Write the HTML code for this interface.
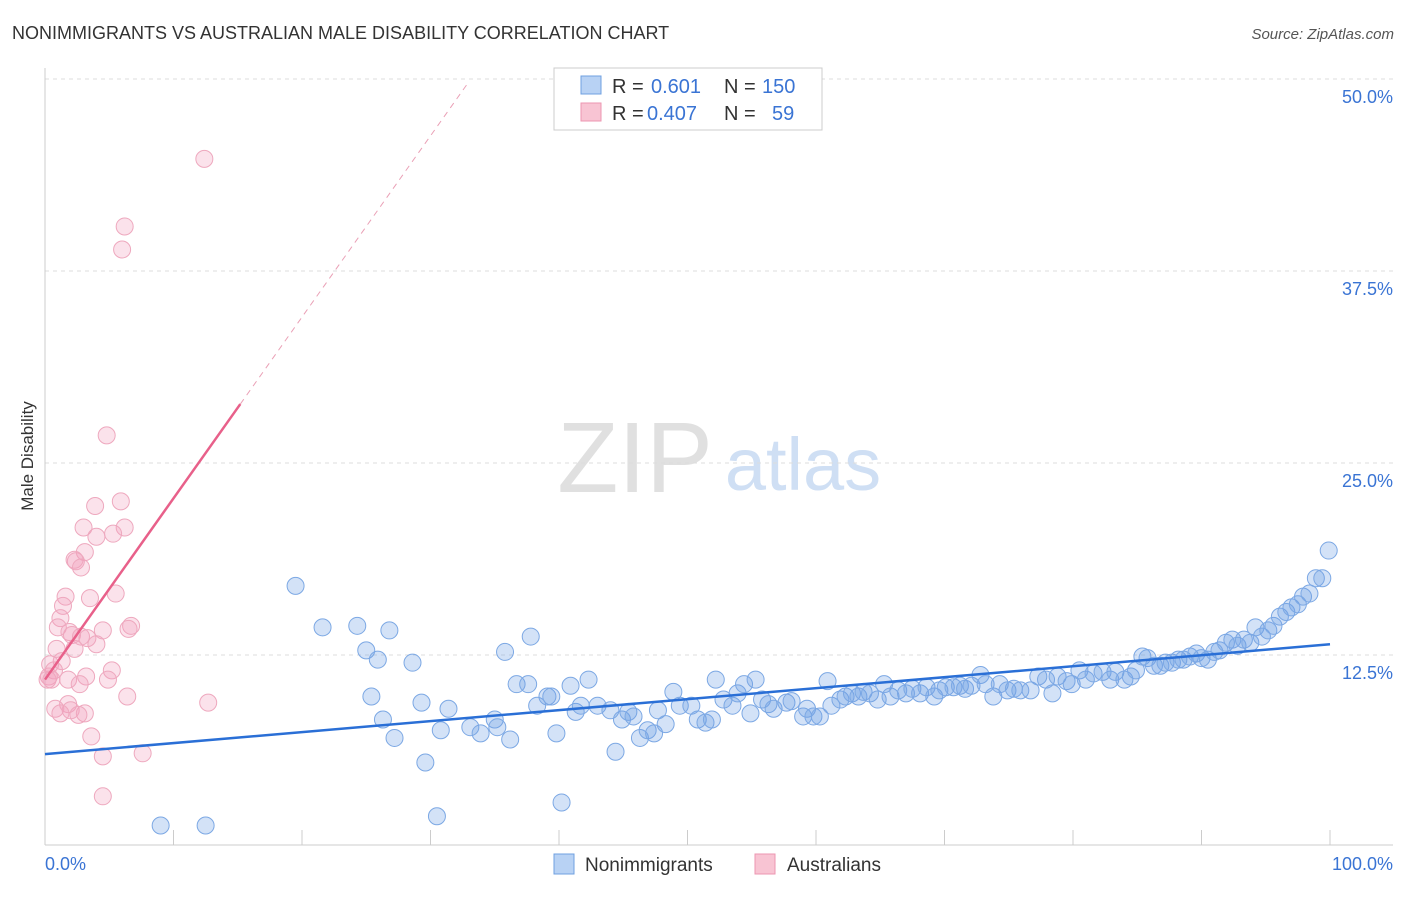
<!DOCTYPE html>
<html><head><meta charset="utf-8"><style>
body{margin:0;background:#fff;font-family:"Liberation Sans",sans-serif;}
svg text{font-family:"Liberation Sans",sans-serif;}
</style></head><body>
<svg id="chart" width="1406" height="892" xmlns="http://www.w3.org/2000/svg">
<text x="12" y="39" font-size="18" fill="#333">NONIMMIGRANTS VS AUSTRALIAN MALE DISABILITY CORRELATION CHART</text>
<text x="1394" y="39" font-size="15" fill="#555" text-anchor="end" font-style="italic">Source: ZipAtlas.com</text>
<text transform="translate(33,456) rotate(-90)" font-size="17" fill="#333" text-anchor="middle">Male Disability</text>
<g>
<text x="635" y="492" font-size="100" fill="#e0e0e0" text-anchor="middle" font-family="Liberation Serif,serif">ZIP</text>
<text x="803" y="490" font-size="74" fill="#cfdff4" text-anchor="middle">atlas</text>
</g>
<g id="grid"></g>
<g id="axes"></g>
<g id="marks"></g>
<g id="legend">
<rect x="554" y="68" width="268" height="62" fill="#fff" stroke="#ccc"/>
<rect x="581" y="76" width="20" height="18" fill="#b8d2f4" stroke="#6fa0e0"/>
<rect x="581" y="103" width="20" height="18" fill="#f8c4d3" stroke="#ec96b0"/>
<text x="612" y="93" font-size="20" fill="#333">R = </text><text x="651" y="93" font-size="20" fill="#3a74d4">0.601</text>
<text x="724" y="93" font-size="20" fill="#333">N = </text><text x="762" y="93" font-size="20" fill="#3a74d4">150</text>
<text x="612" y="120" font-size="20" fill="#333">R = </text><text x="647" y="120" font-size="20" fill="#3a74d4">0.407</text>
<text x="724" y="120" font-size="20" fill="#333">N = </text><text x="772" y="120" font-size="20" fill="#3a74d4">59</text>
</g>
<g>
<rect x="554" y="854" width="20" height="20" fill="#b8d2f4" stroke="#6fa0e0"/>
<text x="585" y="871" font-size="19" fill="#333">Nonimmigrants</text>
<rect x="755" y="854" width="20" height="20" fill="#f8c4d3" stroke="#ec96b0"/>
<text x="787" y="871" font-size="19" fill="#333">Australians</text>
</g>
</svg>
<script>
const yTicks=[12.5,25,37.5,50];
const yTickLabels=["12.5%","25.0%","37.5%","50.0%"];
const xTickLabels=["0.0%","100.0%"];
const blueX=[19.5,21.6,24.3,25.0,25.9,26.8,25.4,26.3,27.2,28.6,29.3,29.6,30.5,30.8,31.4,33.1,33.9,35.0,35.2,35.8,36.2,36.7,37.6,37.8,38.3,39.1,39.4,39.8,40.2,40.9,41.3,41.7,42.3,43.0,44.0,44.4,44.9,45.4,45.8,46.3,46.9,47.4,47.7,48.3,48.9,49.4,50.3,50.8,51.4,51.9,52.2,52.8,53.5,53.9,54.4,54.9,55.3,55.8,56.3,56.7,57.7,58.1,59.0,59.3,59.8,60.3,60.9,61.2,61.9,62.3,62.8,63.3,63.7,64.2,64.8,65.3,65.8,66.4,67.0,67.5,68.1,68.6,69.2,69.6,70.1,70.7,71.2,71.6,72.1,72.8,73.2,73.8,74.3,74.9,75.4,75.9,76.7,77.3,77.9,78.4,78.8,79.5,79.9,80.5,81.0,81.6,82.3,82.9,83.3,84.0,84.5,84.9,85.4,85.8,86.3,86.8,87.2,87.7,88.2,88.6,89.1,89.6,90.0,90.5,91.0,91.4,91.9,92.4,92.8,93.3,93.8,94.2,94.7,95.2,95.6,96.1,96.6,97.0,97.5,97.9,98.4,98.9,99.4,99.9,9.0,12.5];
const blueY=[17.0,14.3,14.4,12.8,12.2,14.1,9.8,8.3,7.1,12.0,9.4,5.5,2.0,7.6,9.0,7.8,7.4,8.3,7.8,12.7,7.0,10.6,10.6,13.7,9.2,9.8,9.8,7.4,2.9,10.5,8.8,9.2,10.9,9.2,8.9,6.2,8.3,8.8,8.5,7.1,7.6,7.4,8.9,8.0,10.1,9.2,9.2,8.3,8.1,8.3,10.9,9.6,9.2,10.0,10.6,8.7,10.9,9.6,9.3,9.0,9.4,9.5,8.5,9.0,8.5,8.5,10.8,9.2,9.6,9.8,10.0,9.8,10.1,10.0,9.6,10.6,9.8,10.2,10.0,10.3,10.0,10.4,9.8,10.2,10.4,10.4,10.5,10.3,10.5,11.2,10.6,9.8,10.6,10.2,10.3,10.2,10.2,11.1,10.9,10.0,11.1,10.8,10.6,11.5,10.9,11.3,11.4,10.9,11.4,10.9,11.1,11.5,12.4,12.3,11.8,11.8,12.0,12.0,12.2,12.2,12.4,12.6,12.3,12.2,12.7,12.8,13.3,13.5,13.1,13.5,13.3,14.3,13.7,14.1,14.4,15.0,15.3,15.6,15.8,16.3,16.5,17.5,17.5,19.3,1.4,1.4];
const pinkX=[12.4,6.2,6.0,4.8,3.9,5.9,3.0,6.2,5.3,4.0,3.1,2.4,2.3,2.8,1.6,3.5,5.5,1.4,1.2,1.0,6.7,6.5,4.5,1.9,2.1,2.8,3.3,4.0,0.9,2.3,1.3,0.4,0.7,5.2,3.2,0.3,0.2,0.5,1.8,4.9,2.7,6.4,12.7,1.8,0.8,2.0,1.2,3.1,2.6,3.6,4.5,7.6,4.5];
const pinkY=[44.8,40.4,38.9,26.8,22.2,22.5,20.8,20.8,20.4,20.2,19.2,18.6,18.7,18.2,16.3,16.2,16.5,15.7,14.9,14.3,14.4,14.2,14.1,14.0,13.8,13.7,13.6,13.2,12.9,12.9,12.1,11.9,11.5,11.5,11.1,11.1,10.9,10.9,10.9,10.9,10.6,9.8,9.4,9.3,9.0,8.9,8.7,8.7,8.6,7.2,5.9,6.1,3.3];
const blueTrend=[6.05,13.2];
const pinkTrend=[10.9,1.18];
const NS="http://www.w3.org/2000/svg";
const X=v=>45+v*12.85, Y=v=>847-v*15.36;
function mk(tag,attrs,parent){const e=document.createElementNS(NS,tag);for(const k in attrs)e.setAttribute(k,attrs[k]);document.getElementById(parent).appendChild(e);return e;}
yTicks.forEach((t,i)=>{
 const g=mk('line',{x1:45,x2:1393,y1:Y(t),y2:Y(t),stroke:'#ddd','stroke-dasharray':'4,4'},'grid');
 
 
 const l=mk('text',{x:1393,y:Y(t)+24,'font-size':18,fill:'#3a74d4','text-anchor':'end'},'grid');
 l.textContent=yTickLabels[i];
 
 
});
let ax=mk('line',{x1:45,x2:45,y1:68,y2:845,stroke:'#ccc'},'axes');


ax=mk('line',{x1:45,x2:1393,y1:845,y2:845,stroke:'#ccc'},'axes');


for(let i=0;i<=10;i++){const t=mk('line',{x1:X(i*10),x2:X(i*10),y1:830,y2:845,stroke:'#ccc'},'axes');
 
 }
[[0,'start',45],[100,'end',1393]].forEach((d,i)=>{const t=mk('text',{x:d[2],y:870,'font-size':18,fill:'#3a74d4','text-anchor':d[1]},'axes');t.textContent=xTickLabels[i];
 
 });
pinkX.forEach((x,i)=>{const c=mk('circle',{cx:X(x),cy:Y(pinkY[i]),r:8.5,fill:'rgba(242,160,188,0.3)',stroke:'#eea8be','stroke-width':1},'marks');
 
 });
blueX.forEach((x,i)=>{const c=mk('circle',{cx:X(x),cy:Y(blueY[i]),r:8.5,fill:'rgba(110,160,230,0.3)',stroke:'#7ca8e4','stroke-width':1},'marks');
 
 });
let tl=mk('line',{x1:X(0),y1:Y(blueTrend[0]),x2:X(100),y2:Y(blueTrend[1]),stroke:'#2a6fd6','stroke-width':2.5},'marks');


const pe=15.2, pd=32.9;
tl=mk('line',{x1:X(0),y1:Y(pinkTrend[0]),x2:X(pe),y2:Y(pinkTrend[0]+pinkTrend[1]*pe),stroke:'#e8608a','stroke-width':2.5},'marks');


tl=mk('line',{x1:X(pe),y1:Y(pinkTrend[0]+pinkTrend[1]*pe),x2:X(pd),y2:Y(pinkTrend[0]+pinkTrend[1]*pd),stroke:'#eaa0b6','stroke-width':1,'stroke-dasharray':'6,5'},'marks');


</script>
</body></html>
